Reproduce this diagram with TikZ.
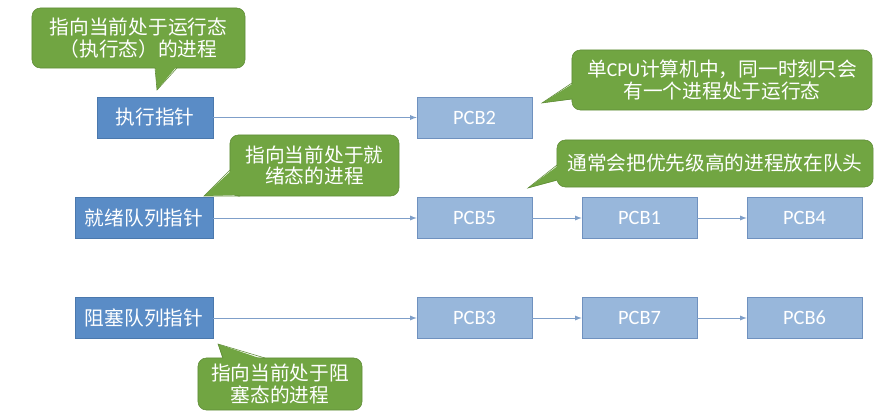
\documentclass[tikz,border=0pt]{standalone}
\usepackage{fontspec}
\setmainfont{Carlito}
\newfontfamily\cjk{Noto Sans CJK SC}
\definecolor{ptrfill}{HTML}{5A8CC6}
\definecolor{ptrline}{HTML}{4A78AD}
\definecolor{pcbfill}{HTML}{98B7DB}
\definecolor{pcbline}{HTML}{6F91BF}
\definecolor{notefill}{HTML}{71A542}
\definecolor{noteline}{HTML}{5F8C37}
\definecolor{linkclr}{HTML}{7F9FC9}

\begin{document}
\begin{tikzpicture}[x=0.025cm, y=-0.025cm]
        \tikzstyle{ptr}=[draw=ptrline, fill=ptrfill, text=white, minimum height=1.03cm, inner sep=0pt, font=\cjk\fontsize{14}{16}\selectfont]
        \tikzstyle{pcb}=[draw=pcbline, fill=pcbfill, text=white, minimum width=2.875cm, minimum height=1.03cm, inner sep=0pt, font=\fontsize{14.5}{16}\selectfont]
        \tikzstyle{note}=[draw=noteline, fill=notefill, rounded corners=6pt, text=white, align=center, inner sep=0pt, font=\cjk\fontsize{14}{15.5}\selectfont]
        \tikzstyle{tail}=[fill=notefill]
        \tikzstyle{link}=[draw=linkclr, line width=0.6pt, -latex]

        \useasboundingbox (0,0) rectangle (880,412);

        \node (run)[ptr, minimum width=2.9cm] at (155,117.5) {执行指针};
        \node (ready)[ptr, minimum width=3.45cm] at (144,218) {就绪队列指针};
        \node (block)[ptr, minimum width=3.45cm] at (144,318) {阻塞队列指针};

        \node (p2)[pcb] at (474.5,117.5) {PCB2};
        \node (p5)[pcb] at (474.5,218) {PCB5};
        \node (p1)[pcb] at (639.5,218) {PCB1};
        \node (p4)[pcb] at (804.5,218) {PCB4};
        \node (p3)[pcb] at (474.5,318) {PCB3};
        \node (p7)[pcb] at (639.5,318) {PCB7};
        \node (p6)[pcb] at (804.5,318) {PCB6};

        \draw[link] (run) -- (p2);
        \draw[link] (ready) -- (p5);
        \draw[link] (p5) -- (p1);
        \draw[link] (p1) -- (p4);
        \draw[link] (block) -- (p3);
        \draw[link] (p3) -- (p7);
        \draw[link] (p7) -- (p6);

        % callouts
        \node (n1)[note, minimum width=5.325cm, minimum height=1.5cm] at (138.5,38) {指向当前处于运行态\\（执行态）的进程};
        \coordinate (t1) at (157,90);
        \fill[tail] (155,66) -- (t1) -- (177,66) -- cycle;
        \draw[noteline] (155,68) -- (t1) -- (177,68);

        \node (n2)[note, minimum width=7.5cm, minimum height=1.5cm] at (722,80) {单{\rmfamily CPU}计算机中，同一时刻只会\\有一个进程处于运行态};
        \coordinate (t2) at (542,103);
        \fill[tail] (574,83) -- (t2) -- (574,99) -- cycle;
        \draw[noteline] (572,83) -- (t2) -- (572,99);

        \node (n3)[note, minimum width=4.225cm, minimum height=1.525cm] at (314.5,165.5) {指向当前处于就\\绪态的进程};
        \coordinate (t3) at (204,196);
        \fill[tail] (232,170) -- (t3) -- (242,195) -- cycle;
        \draw[noteline] (230,170) -- (t3) -- (240,196);

        \node (n4)[note, minimum width=7.9cm, minimum height=1.175cm] at (715,163.5) {通常会把优先级高的进程放在队头};
        \coordinate (t4) at (528,188);
        \fill[tail] (559,165) -- (t4) -- (559,180) -- cycle;
        \draw[noteline] (557,165) -- (t4) -- (557,180);

        \node (n5)[note, minimum width=4.1cm, minimum height=1.3cm] at (280,384) {指向当前处于阻\\塞态的进程};
        \coordinate (t5) at (218,344);
        \fill[tail] (223,360) -- (t5) -- (265,360) -- cycle;
        \draw[noteline] (223,358) -- (t5) -- (265,358);
    \end{tikzpicture}
\end{document}
